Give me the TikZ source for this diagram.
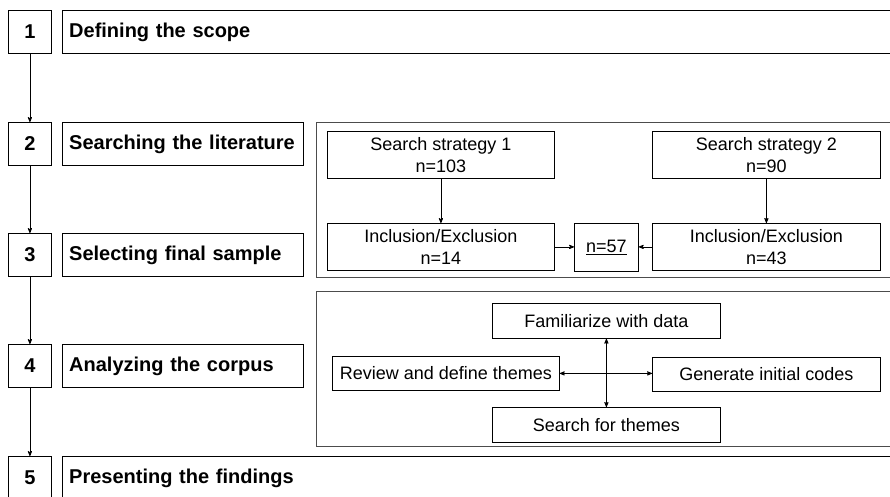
\documentclass[tikz,border=0pt]{standalone}
\usepackage{fontspec}
\setmainfont{Liberation Sans}
\usetikzlibrary{positioning,arrows}
\tikzset{
  numbox/.style  = {draw, minimum width=43pt, minimum height=43pt,
                    inner sep=0pt, anchor=north west,
                    font=\fontsize{20}{24}\selectfont\bfseries},
  stepbox/.style = {draw, minimum height=43pt, inner xsep=7pt,
                    inner ysep=0pt, align=left,
                    font=\fontsize{20}{24}\selectfont\bfseries},
  panel/.style   = {draw=black!70, anchor=north west, inner sep=0pt},
  itembox/.style = {draw, align=center, inner sep=0pt, anchor=north west,
                    font=\fontsize{18}{22}\selectfont}
}

\begin{document}
\begin{tikzpicture}[x=1pt,y=-1pt,line width=0.8pt,>=stealth']
\clip (0,0) rectangle (890,496);
% steps on the left
\node [numbox] (n1) at (8,10)  {1};
\node [numbox] (n2) at (8,122) {2};
\node [numbox] (n3) at (8,233) {3};
\node [numbox] (n4) at (8,344) {4};
\node [numbox] (n5) at (8,456) {5};
\node [stepbox, text width=826pt, right=10pt of n1] (s1) {Defining the scope};
\node [stepbox, text width=227pt, right=10pt of n2] (s2) {Searching the literature};
\node [stepbox, text width=227pt, right=10pt of n3] (s3) {Selecting final sample};
\node [stepbox, text width=227pt, right=10pt of n4] (s4) {Analyzing the corpus};
\node [stepbox, text width=826pt, right=10pt of n5] (s5) {Presenting the findings};
\draw [->] (n1) -- (n2);
\draw [->] (n2) -- (n3);
\draw [->] (n3) -- (n4);
\draw [->] (n4) -- (n5);

% literature search panel
\node [panel, minimum width=600pt, minimum height=155pt] (p1) at (316,122) {};
\node [itembox, minimum width=227pt, minimum height=47pt] (ss1) at (327,131) {Search strategy 1\\n=103};
\node [itembox, minimum width=228pt, minimum height=47pt] (ss2) at (652,131) {Search strategy 2\\n=90};
\node [itembox, minimum width=227pt, minimum height=47pt] (ie1) at (327,223) {Inclusion/Exclusion\\n=14};
\node [itembox, minimum width=64pt, minimum height=48pt] (fin) at (574,223) {\underline{n=57}};
\node [itembox, minimum width=228pt, minimum height=47pt] (ie2) at (652,223) {Inclusion/Exclusion\\n=43};
\draw [->] (ss1) -- (ie1);
\draw [->] (ss2) -- (ie2);
\draw [->] (ie1.east) -- (ie1.east -| fin.west);
\draw [->] (ie2.west) -- (ie2.west -| fin.east);

% analysis panel
\node [panel, minimum width=600pt, minimum height=155pt] (p2) at (316,291) {};
\node [itembox, minimum width=228pt, minimum height=35pt] (fam) at (492,303) {Familiarize with data};
\node [itembox, minimum width=227pt, minimum height=34pt] (rev) at (332,356) {Review and define themes};
\node [itembox, minimum width=228pt, minimum height=34pt] (gen) at (652,357) {Generate initial codes};
\node [itembox, minimum width=228pt, minimum height=35pt] (sft) at (492,407) {Search for themes};
\draw [<->] (fam) -- (sft);
\draw [<->] (rev.east) -- (rev.east -| gen.west);
\end{tikzpicture}
\end{document}
